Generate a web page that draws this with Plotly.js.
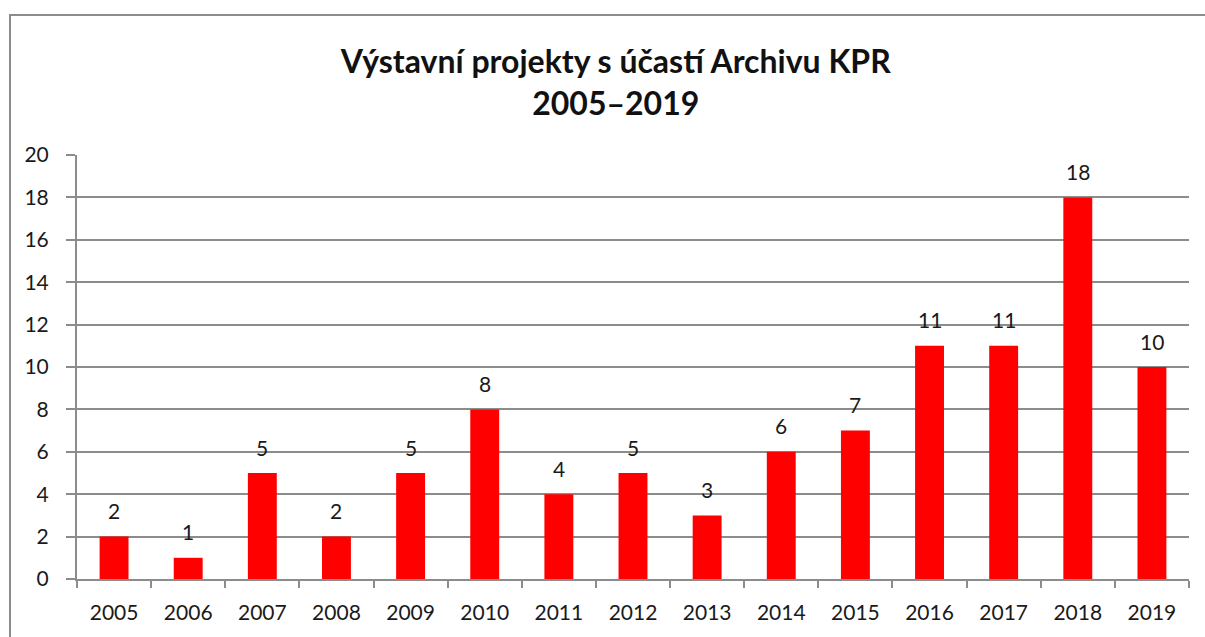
<!DOCTYPE html>
<html>
<head>
<meta charset="utf-8">
<script src="https://cdn.plot.ly/plotly-3.0.1.min.js"></script>
<style>
  html, body { margin: 0; padding: 0; background: #fff; }
  #frame { position: absolute; left: 9px; top: 14px; width: 1300px; height: 700px; border: 2px solid #8c8c8c; box-sizing: border-box; }
  #chart { position: absolute; left: 0; top: 0; width: 1205px; height: 637px; }
</style>
</head>
<body>
<div id="frame"></div>
<div id="chart"></div>
<script>
const years = ["2005","2006","2007","2008","2009","2010","2011","2012","2013","2014","2015","2016","2017","2018","2019"];
const projects = [2,1,5,2,5,8,4,5,3,6,7,11,11,18,10];
const yTicks = [0,2,4,6,8,10,12,14,16,18,20];

const font = "Lato, 'Open Sans', 'Noto Sans', sans-serif";

// value labels above bars (x = category index on the category axis)
const labels = projects.map((v, i) => ({
  x: i, y: v, xref: "x", yref: "y",
  text: String(v), showarrow: false,
  yanchor: "middle", yshift: 26,
  font: { family: font, size: 21, color: "#1a1a1a" }
}));

Plotly.newPlot("chart", [{
  type: "bar",
  x: years,
  y: projects,
  marker: { color: "#ff0000" },
  hoverinfo: "x+y"
}], {
  width: 1205,
  height: 637,
  paper_bgcolor: "rgba(0,0,0,0)",
  plot_bgcolor: "rgba(0,0,0,0)",
  margin: { l: 77, r: 16, t: 155, b: 58 },
  bargap: 0.61,
  showlegend: false,
  annotations: labels,
  title: {
    text: "<b>Výstavní projekty s účastí Archivu KPR<br>2005–2019</b>",
    x: 0.511, xref: "container", xanchor: "center",
    y: 0.885, yref: "container", yanchor: "top",
    font: { family: font, size: 32, color: "#111" }
  },
  xaxis: {
    type: "category",
    categoryorder: "array",
    categoryarray: years,
    range: [-0.5, years.length - 0.5],
    showgrid: false,
    showline: true, linecolor: "#8c8c8c", linewidth: 2,
    ticks: "outside", tickson: "boundaries", ticklen: 7, tickwidth: 2, tickcolor: "#8c8c8c",
    ticklabelstandoff: 14,
    tickangle: 0,
    tickfont: { family: font, size: 21, color: "#1a1a1a" },
    fixedrange: true
  },
  yaxis: {
    range: [0, 20],
    tickvals: yTicks,
    ticktext: yTicks.map(String),
    showgrid: true, gridcolor: "#8c8c8c", gridwidth: 2,
    showline: true, linecolor: "#8c8c8c", linewidth: 2,
    zeroline: false,
    ticks: "outside", ticklen: 9, tickwidth: 2, tickcolor: "#8c8c8c",
    ticklabelstandoff: 13,
    tickfont: { family: font, size: 21, color: "#1a1a1a" },
    fixedrange: true
  }
}, { displayModeBar: false });
</script>
</body>
</html>
